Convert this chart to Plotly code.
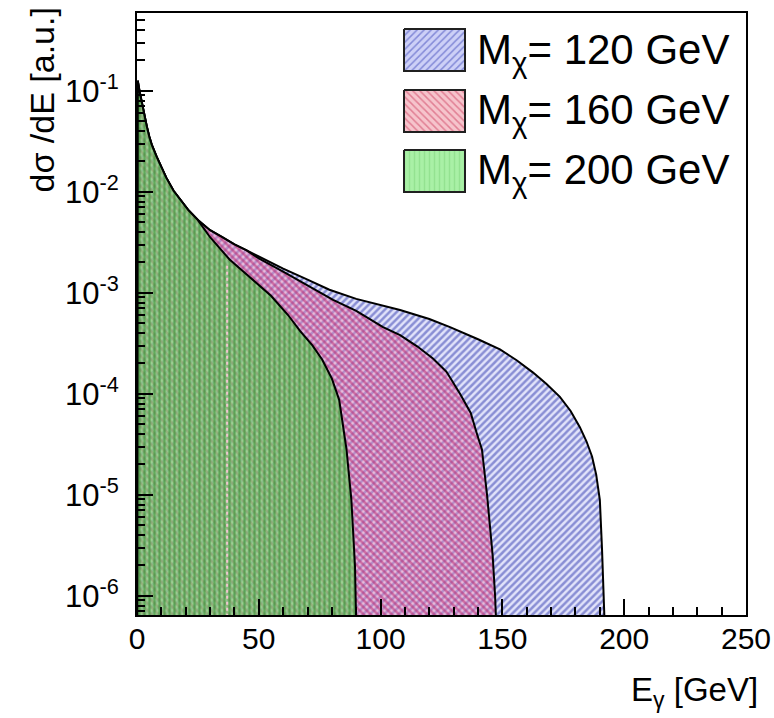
import numpy as np
import plotly.graph_objects as go

# ---------------- data ----------------
# photon energy [GeV] and log10(dsigma/dE) for each dark-matter mass
common_E   = [0.3, 1, 2, 3, 4, 5, 6, 8, 10, 12, 15, 18, 21, 25]
common_log = [-0.90, -1.00, -1.12, -1.25, -1.35, -1.45, -1.53, -1.65, -1.76, -1.86, -1.99, -2.09, -2.18, -2.28]

m120_E   = [30, 35, 40, 45, 50, 60, 70, 79, 90, 100, 108, 120, 128.5, 140, 149, 156, 162.6, 168,
            173.6, 178, 181.8, 184.5, 186.8, 188.5, 190, 190.9, 191.5, 192]
m120_log = [-2.38, -2.45, -2.52, -2.58, -2.64, -2.76, -2.87, -2.97, -3.06, -3.12, -3.17, -3.26, -3.34,
            -3.46, -3.56, -3.67, -3.79, -3.90, -4.03, -4.17, -4.33, -4.47, -4.62, -4.80, -5.05, -5.54,
            -6.00, -6.30]

m160_E   = [30, 35, 40, 45, 50, 60, 70, 80.5, 90, 101, 108, 115, 121.5, 127, 132.6, 137, 139.6, 141.6,
            143.7, 145, 146, 147, 147.5]
m160_log = [-2.38, -2.45, -2.52, -2.58, -2.66, -2.79, -2.93, -3.07, -3.18, -3.34, -3.42, -3.53, -3.65,
            -3.78, -4.00, -4.19, -4.40, -4.55, -5.00, -5.30, -5.60, -6.00, -6.30]

m200_E   = [30, 38, 45, 55, 62, 67, 72, 76, 80, 83, 86, 88, 89.5, 90]
m200_log = [-2.45, -2.67, -2.82, -3.03, -3.22, -3.38, -3.52, -3.66, -3.85, -4.06, -4.55, -5.05, -5.71, -6.30]

series_names = ["M<sub>χ</sub>= 120 GeV", "M<sub>χ</sub>= 160 GeV", "M<sub>χ</sub>= 200 GeV"]
artifact_E = 37.0   # faint dotted vertical line inside the green area

x_ticks = [0, 50, 100, 150, 200, 250]
y_tickvals = [1e-6, 1e-5, 1e-4, 1e-3, 1e-2, 1e-1]
y_ticktext = ["10<sup>-6</sup>", "10<sup>-5</sup>", "10<sup>-4</sup>", "10<sup>-3</sup>",
              "10<sup>-2</sup>", "10<sup>-1</sup>"]
y_range_log = [-6.19, -0.23]
y_floor = 1e-9

# ---------------- styles ----------------
styles = [
    dict(fillcolor="rgba(190,194,245,0.45)", shape="/",  fg="#2f3aae", sol=0.5),
    dict(fillcolor="rgba(235,140,185,0.45)", shape="\\", fg="#b8206a", sol=0.5),
    dict(fillcolor="rgba(110,220,100,0.62)", shape="|",  fg="#2a8a28", sol=0.45),
]
legend_fill = ["#cdd0f7", "#f6c4cc", "#a9f0a6"]
legend_fg = ["#3a44b8", "#cc3a5c", "#7fd47c"]

FONT = "Liberation Sans, Arial, Helvetica, sans-serif"

fig = go.Figure()

datasets = [(m120_E, m120_log), (m160_E, m160_log), (m200_E, m200_log)]
curves = []
for (E, lg), st, name in zip(datasets, styles, series_names):
    xs = np.array(common_E + E, dtype=float)
    ys = 10 ** np.array(common_log + lg, dtype=float)
    curves.append((xs, ys))
    px = np.concatenate([[0.0], xs, [xs[-1]]])
    py = np.concatenate([[y_floor], ys, [y_floor]])
    fig.add_trace(go.Scatter(
        x=px, y=py, mode="lines", fill="toself",
        fillcolor=st["fillcolor"],
        fillpattern=dict(shape=st["shape"], fgcolor=st["fg"], size=5, solidity=st["sol"],
                         fillmode="overlay"),
        line=dict(color="black", width=2),
        name=name, showlegend=False, hoverinfo="skip",
    ))

# faint dotted line at artifact_E inside the green area
gx, gy = curves[2]
top = float(np.interp(artifact_E, gx, gy))
fig.add_trace(go.Scatter(
    x=[artifact_E, artifact_E], y=[top * 0.8, y_floor], mode="lines",
    line=dict(color="rgba(250,200,215,0.9)", width=2, dash="dot"),
    showlegend=False, hoverinfo="skip",
))

# ---------------- manual legend (pixel-unit auxiliary axes) ----------------
L, R, T, B = 137, 746, 13, 615
W, H = R - L, B - T


def paper_x(px):
    return (px - L) / W


def paper_y(py):
    return (B - py) / H


sw_x0, sw_x1 = 404, 465
sw_rows = [(29, 71), (90, 132), (150, 192)]
for (y0, y1), st, fc, fg, name in zip(sw_rows, styles, legend_fill, legend_fg, series_names):
    fig.add_trace(go.Scatter(
        x=[sw_x0, sw_x1, sw_x1, sw_x0, sw_x0], y=[y0, y0, y1, y1, y0],
        xaxis="x2", yaxis="y2", mode="lines", fill="toself", fillcolor=fc,
        fillpattern=dict(shape=st["shape"], fgcolor=fg, size=5, solidity=0.3, fillmode="overlay"),
        line=dict(color="#202020", width=2), showlegend=False, hoverinfo="skip",
    ))
    fig.add_annotation(x=paper_x(475), y=paper_y((y0 + y1) / 2 + 2), xref="paper", yref="paper",
                       text=name, showarrow=False, xanchor="left", yanchor="middle",
                       font=dict(family=FONT, size=42, color="black"))

# axis titles
fig.add_annotation(x=paper_x(760), y=paper_y(692), xref="paper", yref="paper",
                   text="E<sub>γ</sub> [GeV]", showarrow=False, xanchor="right", yanchor="middle",
                   font=dict(family=FONT, size=33, color="black"))
fig.add_annotation(x=paper_x(42), y=paper_y(6), xref="paper", yref="paper",
                   text="dσ /dE [a.u.]", textangle=-90, showarrow=False,
                   xanchor="center", yanchor="top",
                   font=dict(family=FONT, size=34, color="black"))

fig.update_layout(
    width=774, height=718,
    margin=dict(l=L, r=774 - R, t=T, b=718 - B, autoexpand=False),
    paper_bgcolor="white", plot_bgcolor="white",
    font=dict(family=FONT, color="black"),
    showlegend=False,
    xaxis=dict(range=[0, 250], tickvals=x_ticks, ticks="inside", ticklen=16, tickwidth=2,
               tickcolor="black", showline=True, linecolor="black", linewidth=2, mirror=True,
               showgrid=False, zeroline=False, tickfont=dict(size=30, family=FONT),
               ticklabelstandoff=-4, automargin=False,
               minor=dict(ticks="inside", ticklen=8, tickwidth=1.5, dtick=10, tickcolor="black",
                          showgrid=False)),
    yaxis=dict(type="log", range=y_range_log, tickvals=y_tickvals, ticktext=y_ticktext,
               ticks="inside", ticklen=16, tickwidth=2, tickcolor="black",
               showline=True, linecolor="black", linewidth=2, mirror=True,
               showgrid=False, zeroline=False, tickfont=dict(size=31, family=FONT),
               ticklabelstandoff=10, automargin=False,
               minor=dict(ticks="inside", ticklen=8, tickwidth=1.5, tickcolor="black",
                          dtick="D1", showgrid=False)),
    xaxis2=dict(overlaying="x", range=[L, R], visible=False, fixedrange=True),
    yaxis2=dict(overlaying="y", range=[B, T], visible=False, fixedrange=True),
)

fig.write_html("out.html", config={"displayModeBar": False},
               post_script="document.body.style.margin='0';document.body.style.overflow='hidden';")
